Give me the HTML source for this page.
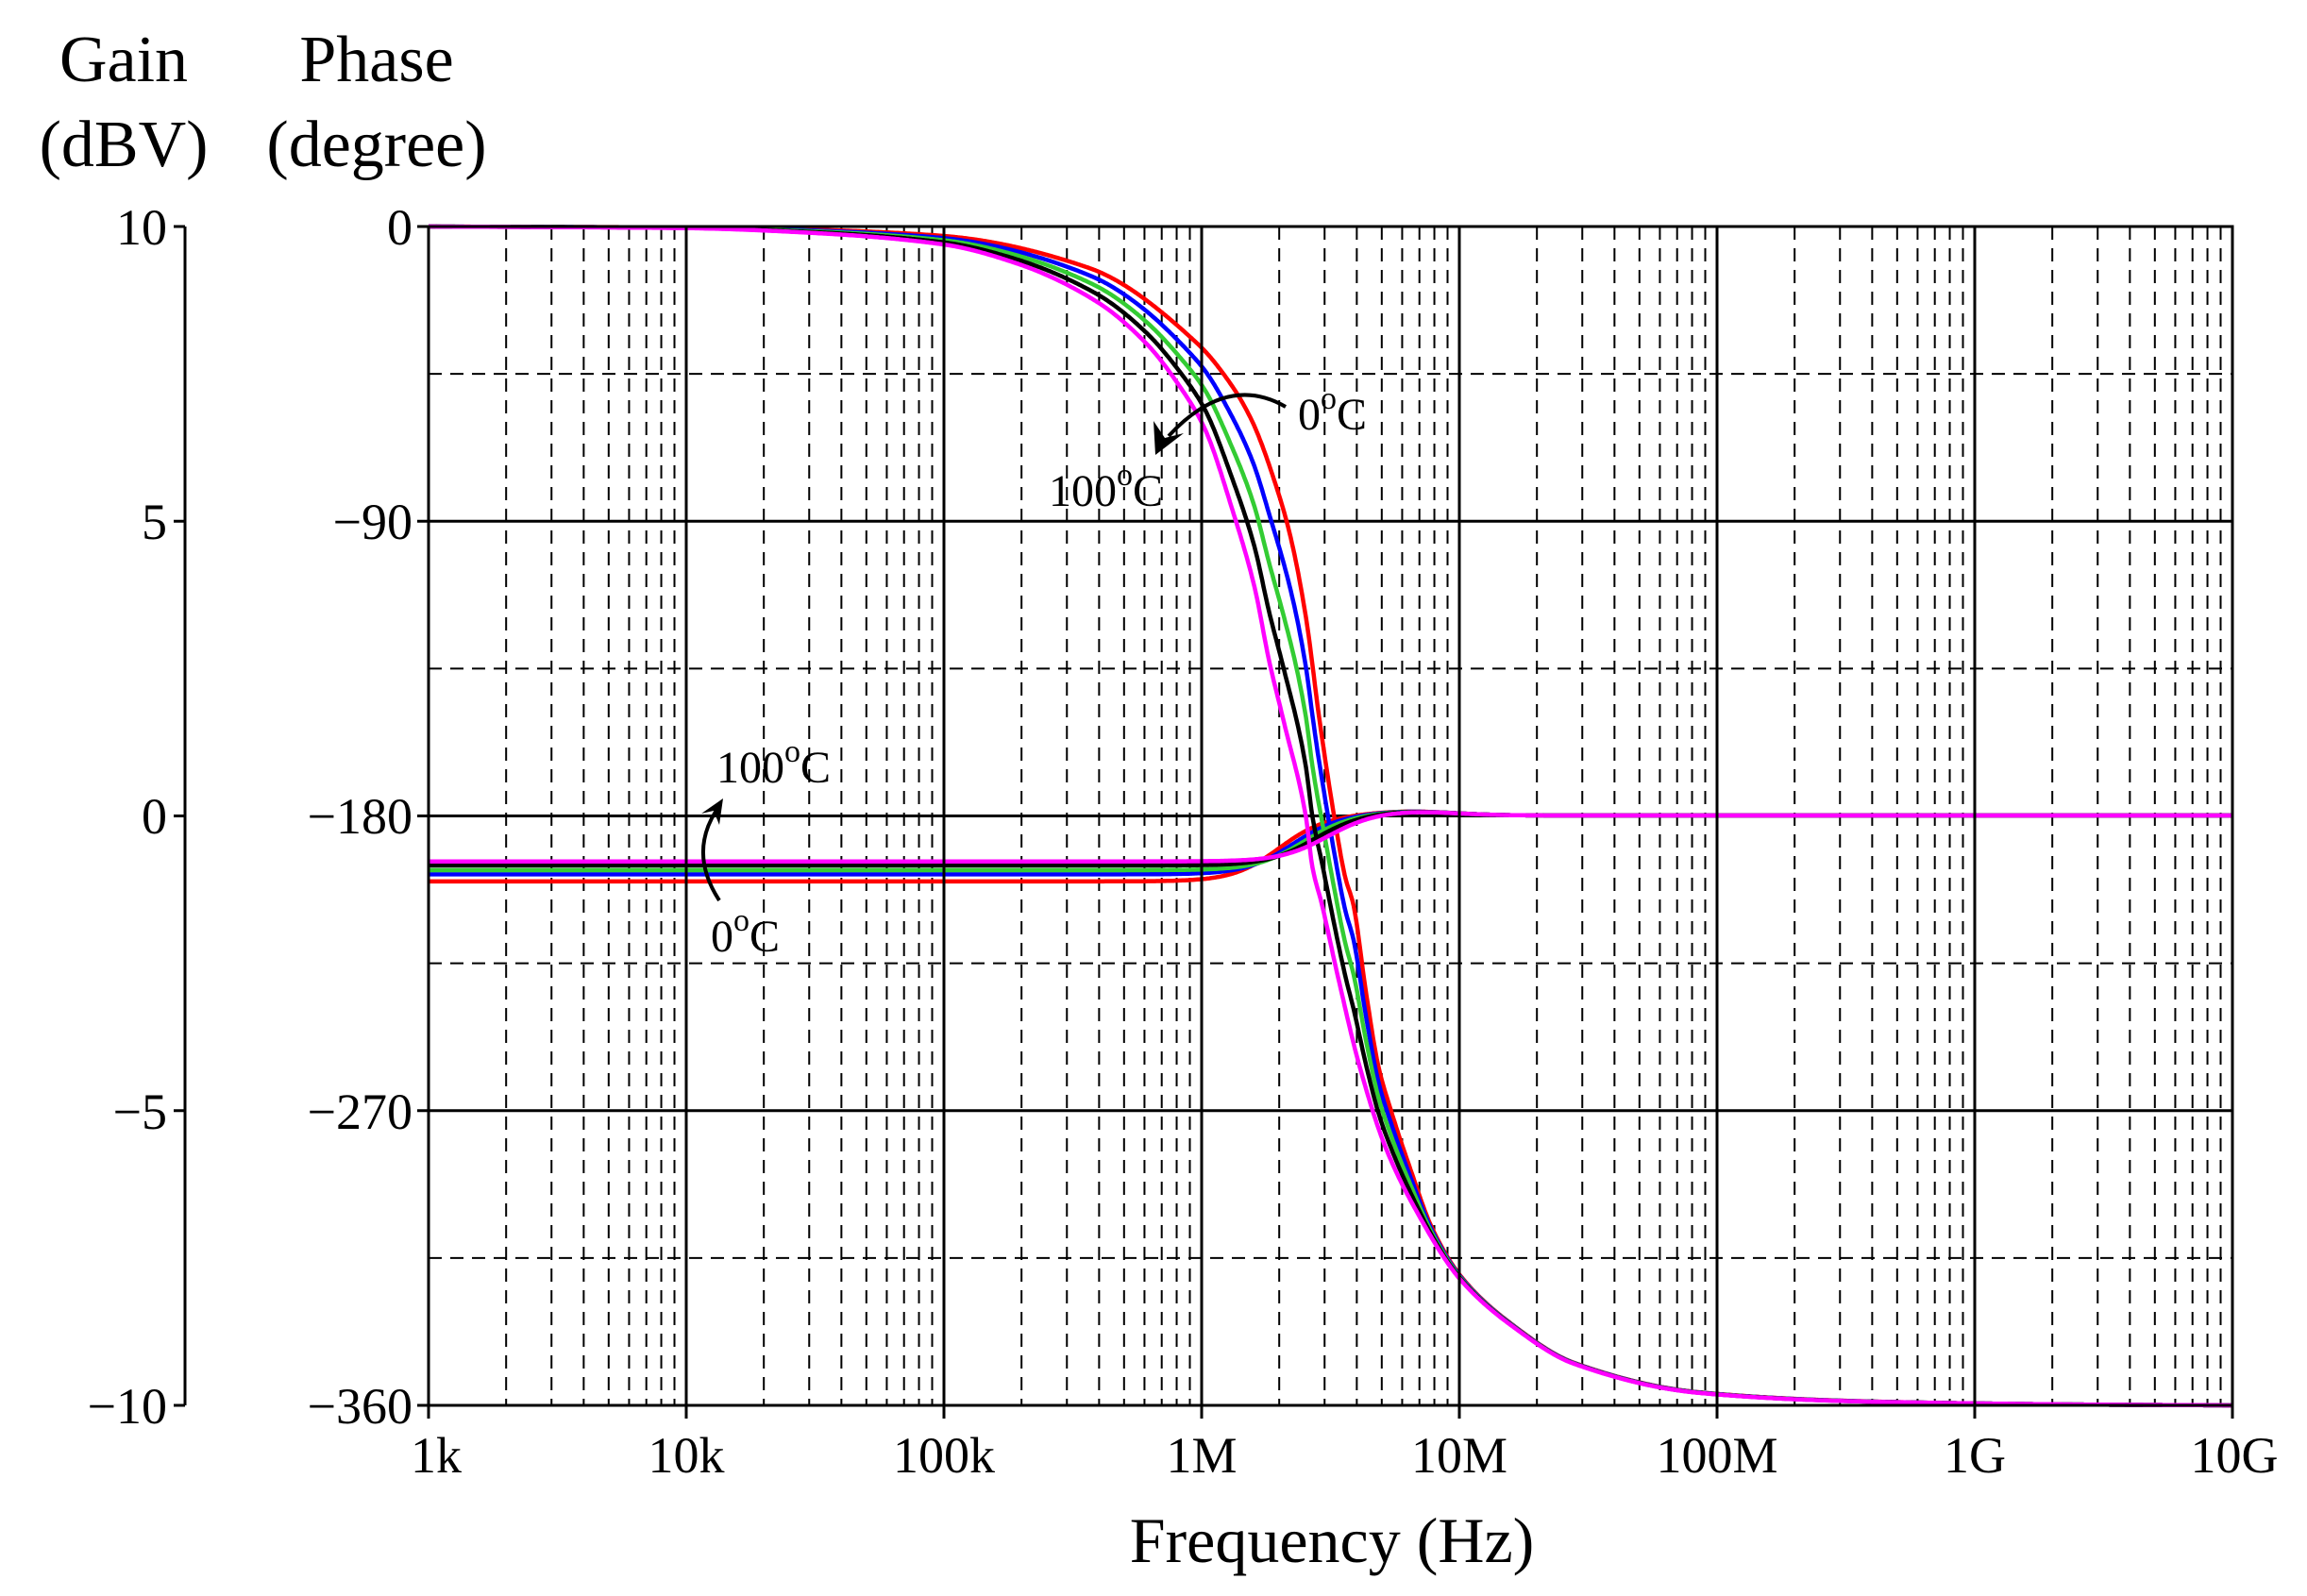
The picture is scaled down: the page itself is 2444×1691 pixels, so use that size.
<!DOCTYPE html>
<html><head><meta charset="utf-8"><style>
html,body{margin:0;padding:0;background:#fff;}
svg{display:block;}
text{font-family:"Liberation Serif",serif;fill:#000;}
</style></head><body>
<svg id="s" width="2444" height="1691" viewBox="0 0 2444 1691" xmlns="http://www.w3.org/2000/svg">
<g id="grid"></g>
<g id="curves" fill="none" stroke-width="4.5" stroke-linejoin="round"></g>
<g id="axes"></g>
<g font-size="70" text-anchor="middle">
<text x="131" y="86">Gain</text>
<text x="131" y="176">(dBV)</text>
<text x="399" y="86">Phase</text>
<text x="399" y="176">(degree)</text>
</g>
<g font-size="54" text-anchor="end">
<text x="177" y="259">10</text>
<text x="177" y="571">5</text>
<text x="177" y="883">0</text>
<text x="177" y="1196">−5</text>
<text x="177" y="1508">−10</text>
<text x="437" y="259">0</text>
<text x="437" y="571">−90</text>
<text x="437" y="883">−180</text>
<text x="437" y="1196">−270</text>
<text x="437" y="1508">−360</text>
</g>
<g font-size="54" text-anchor="middle" id="xl">
<text x="1411" y="1655" font-size="68">Frequency (Hz)</text>
</g>
<g font-size="48">
<text x="1375" y="455">0<tspan dy="-22" font-size="34">o</tspan><tspan dy="22">C</tspan></text>
<text x="1111" y="536">100<tspan dy="-22" font-size="34">o</tspan><tspan dy="22">C</tspan></text>
<text x="759" y="829">100<tspan dy="-22" font-size="34">o</tspan><tspan dy="22">C</tspan></text>
<text x="753" y="1008">0<tspan dy="-22" font-size="34">o</tspan><tspan dy="22">C</tspan></text>
</g>
<g fill="none" stroke="#000" stroke-width="4">
<path d="M1362,431 Q1300,395 1238,462"/>
<path d="M762,954 Q730,905 758,860"/>
</g>
<polygon points="1224,482 1222,446 1234,464 1254,459" fill="#000"/>
<polygon points="766,846 743,862 756,859 762,874" fill="#000"/>
</svg>
<script>
const L=454,R=2365,T=240,B=1489,dec=(R-L)/7;
const X=lf=>L+(lf-3)*dec;
const ns="http://www.w3.org/2000/svg";
function el(p,t,a,txt){const e=document.createElementNS(ns,t);for(const k in a)e.setAttribute(k,a[k]);if(txt)e.textContent=txt;document.getElementById(p).appendChild(e);return e;}
for(let d=3;d<10;d++){for(let m=2;m<=9;m++){const x=X(d+Math.log10(m));el('grid','line',{x1:x,y1:T,x2:x,y2:B,stroke:'#000','stroke-width':2,'stroke-dasharray':'14,9'});}}
for(let i=1;i<8;i++){const y=T+i*(B-T)/8;if(i%2==0)el('grid','line',{x1:L,y1:y,x2:R,y2:y,stroke:'#000','stroke-width':3});else el('grid','line',{x1:L,y1:y,x2:R,y2:y,stroke:'#000','stroke-width':2,'stroke-dasharray':'14,9'});}
const labs=['1k','10k','100k','1M','10M','100M','1G','10G'];
for(let d=3;d<=10;d++){const x=X(d);el('axes','line',{x1:x,y1:T,x2:x,y2:B+14,stroke:'#000','stroke-width':3});el('xl','text',{x:x+(d==3?8:0)+(d==10?2:0),y:1560},labs[d-3]);}
el('axes','rect',{x:L,y:T,width:R-L,height:B-T,fill:'none',stroke:'#000','stroke-width':3});
el('axes','line',{x1:196,y1:T,x2:196,y2:B,stroke:'#000','stroke-width':3});
for(let i=0;i<=4;i++){const y=T+i*(B-T)/4;el('axes','line',{x1:184,y1:y,x2:196,y2:y,stroke:'#000','stroke-width':3});el('axes','line',{x1:442,y1:y,x2:L,y2:y,stroke:'#000','stroke-width':3});}
const RK=[[3,0],[4,-0.3],[4.5,-1],[5,-2.9],[5.561,-12.6],[5.983,-35.7],[6.094,-46],[6.192,-58.8],[6.29,-79.5],[6.345,-94.8],[6.404,-119],[6.459,-151.6],[6.514,-180],[6.558,-199],[6.588,-206.8],[6.638,-234],[6.686,-256.5],[6.734,-269.8],[6.808,-287.4],[6.895,-306],[7.005,-320.5],[7.2,-335],[7.445,-347],[7.93,-356],[8.5,-358.6],[9,-359.4],[9.5,-359.8],[10,-360]];
const MK=[[3,0],[4,-0.5],[4.5,-2],[5,-5.5],[5.28,-11.2],[5.59,-22.8],[5.785,-35.7],[5.913,-48.6],[6.01,-61.4],[6.122,-87.2],[6.206,-110.4],[6.261,-132.3],[6.32,-151.6],[6.404,-180],[6.43,-195.7],[6.466,-206.8],[6.528,-228.8],[6.613,-256.5],[6.711,-280.7],[6.833,-300.6],[7.004,-321.6],[7.2,-335.5],[7.445,-347.3],[7.93,-356.2],[8.5,-358.7],[9,-359.4],[9.5,-359.8],[10,-360]];
function mono(K){const n=K.length,xs=K.map(k=>k[0]),ys=K.map(k=>k[1]),d=[],m=[];
 for(let i=0;i<n-1;i++)d.push((ys[i+1]-ys[i])/(xs[i+1]-xs[i]));
 m[0]=d[0];m[n-1]=d[n-2];
 for(let i=1;i<n-1;i++){if(d[i-1]*d[i]<=0)m[i]=0;else{const w1=2*(xs[i+1]-xs[i])+(xs[i]-xs[i-1]),w2=(xs[i+1]-xs[i])+2*(xs[i]-xs[i-1]);m[i]=(w1+w2)/(w1/d[i-1]+w2/d[i]);}}
 return x=>{let i=0;while(i<n-2&&x>xs[i+1])i++;const h=xs[i+1]-xs[i],t=(x-xs[i])/h,t2=t*t,t3=t2*t;
  return (2*t3-3*t2+1)*ys[i]+(t3-2*t2+t)*h*m[i]+(-2*t3+3*t2)*ys[i+1]+(t3-t2)*h*m[i+1];};}
const fR=mono(RK),fM=mono(MK);
const ser=[['#ff00ff',0,-0.78,6.48],['#000',0.25,-0.85,6.43],['#33cc33',0.5,-0.93,6.39],['#0000ff',0.75,-1.0,6.35],['#ff0000',1,-1.12,6.3]];
const gy=g=>864-g*62.4;
const py=p=>T-p/360*(B-T);
ser.slice().reverse().forEach(([c,t,g0,gc])=>{
 let dp='',dg='';
 for(let i=0;i<=1400;i++){const lf=3+7*i/1400;
  const p=(1-t)*fM(lf)+t*fR(lf);
  const s=1/(1+Math.exp(-(lf-gc)/0.09));
  const g=g0*(1-s)+0.07*Math.exp(-Math.pow((lf-6.8)/0.25,2));
  const x=X(lf).toFixed(1);
  dp+=(i?'L':'M')+x+','+py(p).toFixed(1);
  dg+=(i?'L':'M')+x+','+gy(g).toFixed(1);}
 el('curves','path',{d:dg,stroke:c});
 el('curves','path',{d:dp,stroke:c});
});
</script>
</body></html>
